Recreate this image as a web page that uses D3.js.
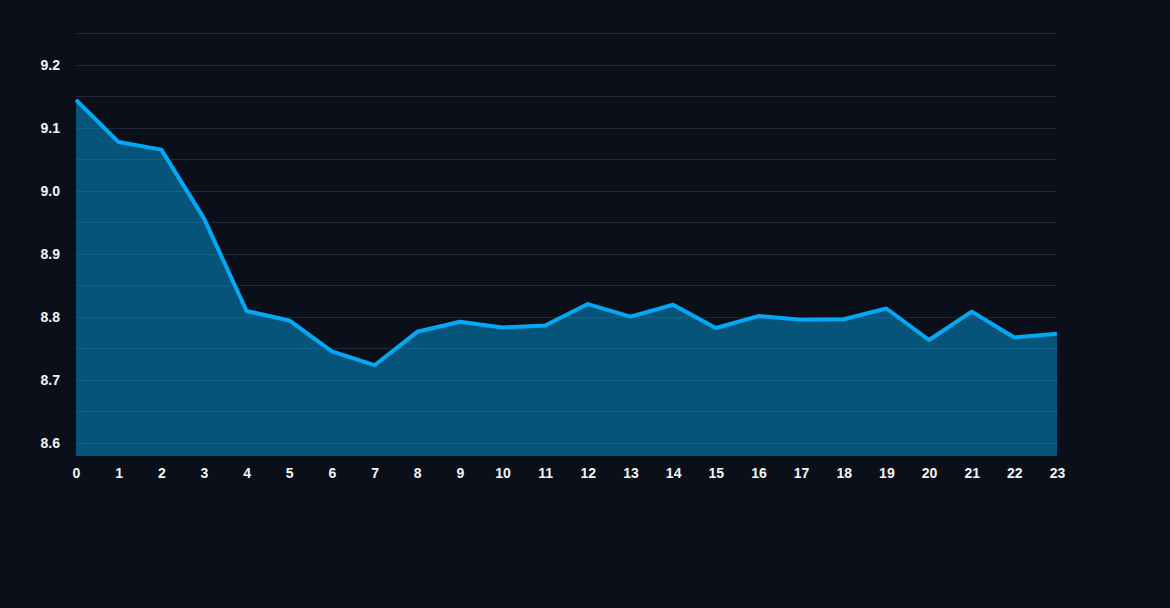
<!DOCTYPE html>
<html>
<head>
<meta charset="utf-8">
<script src="https://cdn.jsdelivr.net/npm/d3@7"></script>
<style>
  html, body { margin: 0; padding: 0; background: #0b0f19; }
  #chart text { font-family: "Liberation Sans", Arial, Helvetica, sans-serif; font-weight: bold; font-size: 14px; fill: #f3f4f6; }
</style>
</head>
<body>
<div id="chart"></div>
<script>
// hours of the day and the measured values
var hours = d3.range(0, 24);
var values = [9.144, 9.077, 9.065, 8.956, 8.809, 8.794, 8.745, 8.723,
              8.776, 8.792, 8.783, 8.786, 8.820, 8.800, 8.819, 8.782,
              8.801, 8.795, 8.796, 8.813, 8.763, 8.808, 8.767, 8.773];
var yTicks = [8.6, 8.7, 8.8, 8.9, 9.0, 9.1, 9.2];
var gridTicks = [8.6, 8.65, 8.7, 8.75, 8.8, 8.85, 8.9, 8.95, 9.0, 9.05, 9.1, 9.15, 9.2, 9.25];

function init() {
    var W = 1170, H = 608;
    var margin = { top: 33, right: 113, bottom: 152, left: 76 };
    var w = W - margin.left - margin.right;
    var h = H - margin.top - margin.bottom;

    var dataset = hours.map(function(d, i) { return { hour: d, value: values[i] }; });

    var svg = d3.select("#chart")
        .append("svg")
        .attr("width", W)
        .attr("height", H)
        .append("g")
        .attr("transform", "translate(" + margin.left + "," + margin.top + ")");

    var xScale = d3.scaleLinear().domain([0, 23]).range([0, w]);
    var yScale = d3.scaleLinear().domain([8.579, 9.25]).range([h, 0]);

    // grid lines every 0.05
    svg.append("g")
        .selectAll("line")
        .data(gridTicks)
        .enter()
        .append("line")
        .attr("x1", 0)
        .attr("x2", w)
        .attr("y1", function(d) { return Math.round(yScale(d)) + 0.5; })
        .attr("y2", function(d) { return Math.round(yScale(d)) + 0.5; })
        .attr("stroke", "#1c2738")
        .attr("stroke-width", 1);

    var area = d3.area()
        .x(function(d) { return xScale(d.hour); })
        .y0(h)
        .y1(function(d) { return yScale(d.value); });

    var line = d3.line()
        .x(function(d) { return xScale(d.hour); })
        .y(function(d) { return yScale(d.value); });

    svg.append("path")
        .datum(dataset)
        .attr("d", area)
        .attr("fill", "#03a9f4")
        .attr("fill-opacity", 0.45);

    svg.append("path")
        .datum(dataset)
        .attr("d", line)
        .attr("fill", "none")
        .attr("stroke", "#03a9f4")
        .attr("stroke-width", 4)
        .attr("stroke-linejoin", "round");

    // y axis labels
    var yAxis = d3.axisLeft(yScale)
        .tickValues(yTicks)
        .tickFormat(d3.format(".1f"))
        .tickSize(0)
        .tickPadding(16);
    svg.append("g")
        .attr("class", "y axis")
        .call(yAxis)
        .call(function(g) { g.select(".domain").remove(); });

    // x axis labels
    var xAxis = d3.axisBottom(xScale)
        .tickValues(hours)
        .tickFormat(d3.format("d"))
        .tickSize(0)
        .tickPadding(12);
    svg.append("g")
        .attr("class", "x axis")
        .attr("transform", "translate(0," + h + ")")
        .call(xAxis)
        .call(function(g) { g.select(".domain").remove(); });

    svg.selectAll(".axis text")
        .attr("font-family", null)
        .attr("font-size", null);
}

window.onload = init;
</script>
</body>
</html>
